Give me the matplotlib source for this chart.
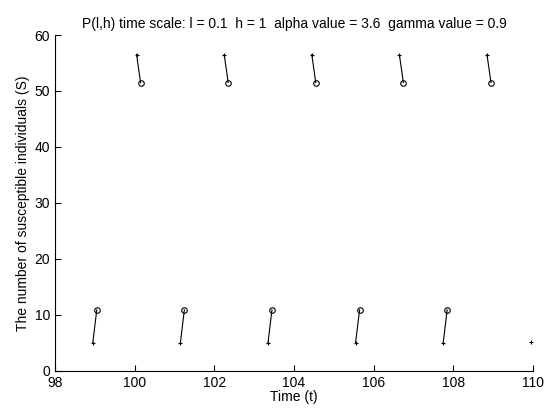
import matplotlib
matplotlib.use('Agg')
import matplotlib.pyplot as plt

plt.rcParams['font.family'] = ['Liberation Sans', 'DejaVu Sans']

# start / end points of each step (t, S)
t_start = [98.95, 100.05, 101.15, 102.25, 103.35, 104.45, 105.55, 106.65, 107.75, 108.85]
s_start = [5.0, 56.5, 5.0, 56.5, 5.0, 56.5, 5.0, 56.5, 5.0, 56.5]
t_end = [99.05, 100.15, 101.25, 102.35, 103.45, 104.55, 105.65, 106.75, 107.85, 108.95]
s_end = [10.9, 51.5, 10.9, 51.5, 10.9, 51.5, 10.9, 51.5, 10.9, 51.5]
t_last = [109.95]
s_last = [5.2]

fig = plt.figure(figsize=(5.47, 4.12), dpi=100)
ax = fig.add_axes([0.1005, 0.1, 0.8735, 0.815])

for i in range(len(t_start)):
    ax.plot([t_start[i], t_end[i]], [s_start[i], s_end[i]], color='k', linewidth=0.8)
ax.plot(t_start, s_start, '+', color='k', markersize=3, markeredgewidth=0.8)
ax.plot(t_end, s_end, 'o', color='k', markerfacecolor='none', markersize=4, markeredgewidth=0.8)
ax.plot(t_last, s_last, '+', color='k', markersize=3, markeredgewidth=0.8)

ax.set_xlim(98, 110)
ax.set_ylim(0, 60)
ax.set_xticks(range(98, 111, 2))
ax.set_yticks(range(0, 61, 10))
ax.spines['top'].set_visible(False)
ax.spines['right'].set_visible(False)
ax.tick_params(direction='in', labelsize=10, length=4)

ax.set_xlabel('Time (t)', fontsize=10, labelpad=0)
ax.set_ylabel('The number of susceptible individuals (S)', fontsize=10, labelpad=3)
ax.set_title('P(l,h) time scale: l = 0.1  h = 1  alpha value = 3.6  gamma value = 0.9', fontsize=10, pad=5)

fig.savefig('out.png', dpi=100)
